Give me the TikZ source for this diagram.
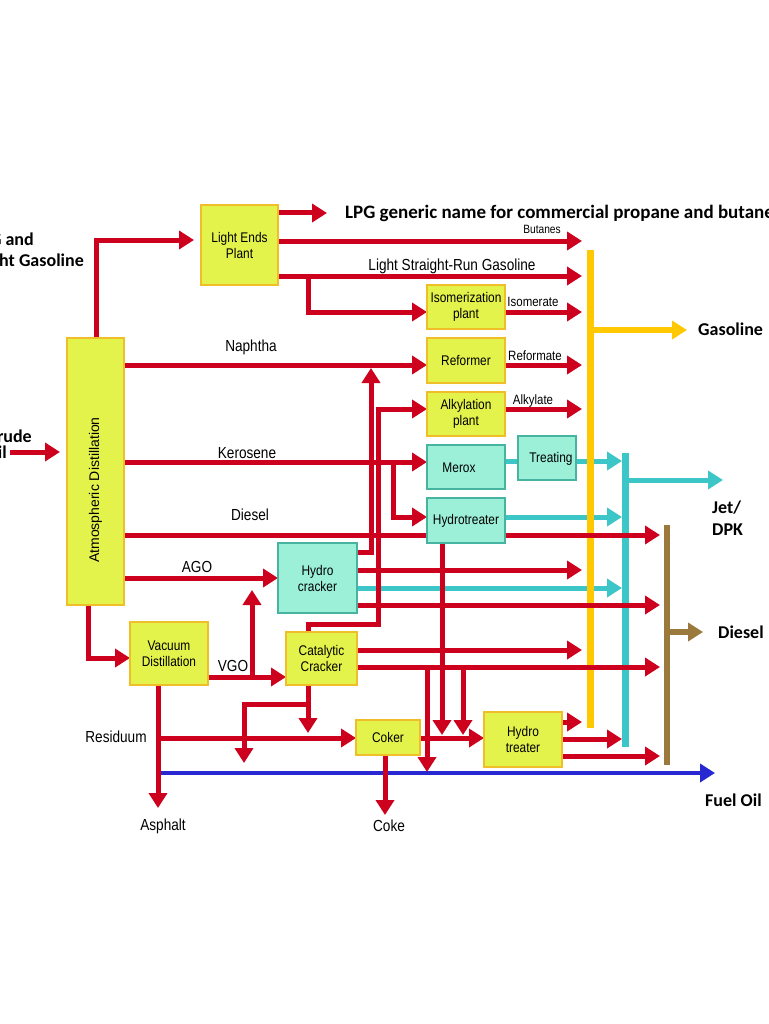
\documentclass[tikz,border=0pt]{standalone}
\usepackage{fontspec}
\setmainfont{Liberation Sans}
\newfontfamily\nar[FakeStretch=0.85]{Liberation Sans}
\newfontfamily\carl{Carlito}
\usetikzlibrary{arrows.meta}
\definecolor{rd}{RGB}{205,0,30}
\definecolor{yfill}{RGB}{228,243,75}
\definecolor{ybord}{RGB}{240,190,40}
\definecolor{cfill}{RGB}{155,240,215}
\definecolor{cbord}{RGB}{70,180,160}
\definecolor{yl}{RGB}{255,200,0}
\definecolor{tl}{RGB}{60,198,200}
\definecolor{br}{RGB}{155,120,60}
\definecolor{bl}{RGB}{40,40,210}
\begin{document}
\begin{tikzpicture}[x=1pt,y=-1pt,
  ybox/.style={draw=ybord, fill=yfill, line width=1.2pt, inner sep=0pt, outer sep=0pt,
    anchor=north west, align=center, font={\nar\fontsize{14}{16}\selectfont}},
  cbox/.style={ybox, draw=cbord, fill=cfill},
  rl/.style={draw=rd, line width=5pt},
  ra/.style={rl, -{Triangle[length=15pt,width=18pt]}},
  ta/.style={draw=tl, line width=5pt, -{Triangle[length=15pt,width=18pt]}},
  tln/.style={draw=tl, line width=5pt},
  lbl/.style={font={\nar\fontsize{16}{18}\selectfont}, inner sep=0pt},
  slbl/.style={font={\nar\fontsize{13.5}{15}\selectfont}, inner sep=0pt},
  big/.style={font={\carl\bfseries\fontsize{18}{20}\selectfont}, inner sep=0pt, anchor=west},
]
\useasboundingbox (0,0) rectangle (768,1024);
\fill[white] (0,0) rectangle (768,1024);

% boxes (placed first for names, drawn again on top later)
\node[ybox, minimum width=77pt, minimum height=80pt] (le) at (201,205) {};
\node[ybox, minimum width=57pt, minimum height=267pt] (atm) at (67,338) {};
\node[ybox, minimum width=78pt, minimum height=44pt] (iso) at (427,285) {};
\node[ybox, minimum width=78pt, minimum height=45pt] (ref) at (427,338) {};
\node[ybox, minimum width=78pt, minimum height=44pt] (alk) at (427,392) {};
\node[cbox, minimum width=78pt, minimum height=44pt] (mer) at (427,445) {};
\node[cbox, minimum width=58pt, minimum height=44pt] (trt) at (518,436) {};
\node[cbox, minimum width=78pt, minimum height=45pt] (hyt) at (427,498) {};
\node[cbox, minimum width=79pt, minimum height=70pt] (hcr) at (278,543) {};
\node[ybox, minimum width=71pt, minimum height=53pt] (cat) at (286,632) {};
\node[ybox, minimum width=78pt, minimum height=63pt] (vac) at (130,622) {};
\node[ybox, minimum width=64pt, minimum height=35pt] (cok) at (356,720) {};
\node[ybox, minimum width=78pt, minimum height=55pt] (hyt2) at (484,712) {};

% free-end coordinates
\coordinate (lpgE) at (327,213);
\coordinate (gasbar) at (582,0);
\coordinate (jetbar) at (622,0);
\coordinate (dslbar) at (660,0);

% teal horizontals
\draw[tln] (mer.east |- 0,461) -- (trt.west |- 0,461);
\draw[ta] (trt.east |- 0,461) -- (jetbar |- 0,461);
\draw[ta] (hyt.east |- 0,517) -- (jetbar |- 0,517);
\draw[ta] (hcr.east |- 0,588) -- (jetbar |- 0,588);

% yellow gasoline bar
\coordinate (yt) at (590,250); \coordinate (yb) at (590,728);
\draw[yl, line width=7pt] (yt) -- (yb);
\coordinate (gasE) at (687,330);
\draw[yl, line width=6pt, -{Triangle[length=15pt,width=18pt]}] (590,330) -- (gasE);

% teal jet bar
\coordinate (tt) at (625,453); \coordinate (tb) at (625,747);
\draw[tl, line width=7pt] (tt) -- (tb);
\coordinate (jetE) at (723,480);
\draw[ta] (625,480) -- (jetE);

% brown diesel bar
\coordinate (bt) at (667,525); \coordinate (bb) at (667,765);
\draw[br, line width=6pt] (bt) -- (bb);
\coordinate (dslE) at (703,632);
\draw[br, line width=6pt, -{Triangle[length=15pt,width=18pt]}] (667,632) -- (dslE);

% blue fuel oil
\coordinate (foE) at (715,773);
\draw[bl, line width=4pt, -{Triangle[length=15pt,width=18pt]}] (158,773) -- (foE);

% red lines
\coordinate (crudeS) at (10,452);
\draw[ra, shorten >=7pt] (crudeS) -- (atm.west |- crudeS);
\draw[ra, shorten >=7pt] (atm.north -| 96,0) |- (le.west |- 0,240);
\draw[ra] (le.east |- lpgE) -- (lpgE);
\draw[ra] (le.east |- 0,241) -- (gasbar |- 0,241);
\draw[ra] (le.east |- 0,276) -- (gasbar |- 0,276);
\draw[ra] (308,276) |- (iso.west |- 0,312);
\draw[ra] (iso.east |- 0,312) -- (gasbar |- 0,312);
\draw[ra] (atm.east |- 0,365) -- (ref.west |- 0,365);
\draw[ra] (ref.east |- 0,365) -- (gasbar |- 0,365);
\draw[ra] (alk.east |- 0,409) -- (gasbar |- 0,409);
\draw[ra] (atm.east |- 0,462) -- (mer.west |- 0,462);
\draw[ra] (393,462) |- (hyt.west |- 0,517);
\draw[ra] (atm.east |- 0,535) -- (dslbar |- 0,535);
\draw[ra] (atm.east |- 0,578) -- (hcr.west |- 0,578);
\draw[ra] (atm.south -| 88,0) |- (vac.west |- 0,658);
\draw[ra] (vac.east |- 0,677) -- (cat.west |- 0,677);
\draw[ra] (252,677) -- (252,590);
\draw[ra] (hcr.east |- 0,552) -| (371,368);
\draw[ra] (hcr.east |- 0,570) -- (gasbar |- 0,570);
\draw[ra] (hcr.east |- 0,605) -- (dslbar |- 0,605);
\draw[ra] (cat.north -| 308,0) |- (378,624) |- (alk.west |- 0,409);
\draw[ra] (cat.east |- 0,650) -- (gasbar |- 0,650);
\draw[ra] (cat.east |- 0,667) -- (dslbar |- 0,667);
\draw[ra] (427,667) -- (427,772);
\draw[ra] (463,667) -- (463,735);
\draw[ra] (hyt.south -| 442,0) -- (442,735);
\draw[ra] (cat.south -| 308,0) -- (308,733);
\draw[ra] (308,704) -| (244,763);
\coordinate (asphE) at (158,808);
\draw[ra] (vac.south -| asphE) -- (asphE);
\draw[ra] (158,738) -- (cok.west |- 0,738);
\coordinate (cokeE) at (385,815);
\draw[ra] (cok.south -| cokeE) -- (cokeE);
\draw[ra] (cok.east |- 0,738) -- (hyt2.west |- 0,738);
\draw[ra] (hyt2.east |- 0,722) -- (gasbar |- 0,722);
\draw[ra] (hyt2.east |- 0,739) -- (jetbar |- 0,739);
\draw[ra] (hyt2.east |- 0,756) -- (dslbar |- 0,756);

% boxes on top
\node[ybox, minimum width=77pt, minimum height=80pt] at (201,205) {Light Ends\\Plant};
\node[ybox, minimum width=57pt, minimum height=267pt] at (67,338) {};
\node[rotate=90, inner sep=0pt, font={\fontsize{14}{16}\selectfont}] at (95.5,490) {Atmospheric Distillation};
\node[ybox, minimum width=78pt, minimum height=44pt] at (427,285) {Isomerization\\plant};
\node[ybox, minimum width=78pt, minimum height=45pt] at (427,338) {Reformer};
\node[ybox, minimum width=78pt, minimum height=44pt] at (427,392) {Alkylation\\plant};
\node[cbox, minimum width=78pt, minimum height=44pt] at (427,445) {};
\node[font={\nar\fontsize{14}{16}\selectfont}, inner sep=0pt] at (459,468) {Merox};
\node[cbox, minimum width=58pt, minimum height=44pt] at (518,436) {};
\node[font={\nar\fontsize{14}{16}\selectfont}, inner sep=0pt] at (551,459) {Treating};
\node[cbox, minimum width=78pt, minimum height=45pt] at (427,498) {Hydrotreater};
\node[cbox, minimum width=79pt, minimum height=70pt] at (278,543) {Hydro\\cracker};
\node[ybox, minimum width=71pt, minimum height=53pt] at (286,632) {Catalytic\\Cracker};
\node[ybox, minimum width=78pt, minimum height=63pt] at (130,622) {Vacuum\\Distillation};
\node[ybox, minimum width=64pt, minimum height=35pt] at (356,720) {Coker};
\node[ybox, minimum width=78pt, minimum height=55pt] at (484,712) {Hydro\\treater};

% labels
\node[slbl, font={\nar\fontsize{12}{14}\selectfont}] at (542,229) {Butanes};
\node[lbl] at (452,266) {Light Straight-Run Gasoline};
\node[slbl] at (533,302) {Isomerate};
\node[lbl] at (251,347) {Naphtha};
\node[slbl] at (535,356) {Reformate};
\node[slbl] at (533,401) {Alkylate};
\node[lbl] at (247,453) {Kerosene};
\node[lbl] at (250,515) {Diesel};
\node[lbl] at (197,567) {AGO};
\node[lbl] at (233,666) {VGO};
\node[lbl] at (116,737) {Residuum};
\node[lbl] at (163,826) {Asphalt};
\node[lbl] at (389,826) {Coke};

\node[big, font={\carl\bfseries\fontsize{19}{21}\selectfont}] at (345,213) {LPG generic name for commercial propane and butane};
\node[big, anchor=east] at (34,239) {LPG and};
\node[big, anchor=east] at (84,262) {Light Gasoline};
\node[big, anchor=east] at (32,436) {Crude};
\node[big, anchor=east] at (7,452) {Oil};
\node[big] at (698,329) {Gasoline};
\node[big] at (712,508) {Jet/};
\node[big] at (712,530) {DPK};
\node[big] at (718,632) {Diesel};
\node[big] at (705,800) {Fuel Oil};
\end{tikzpicture}
\end{document}
